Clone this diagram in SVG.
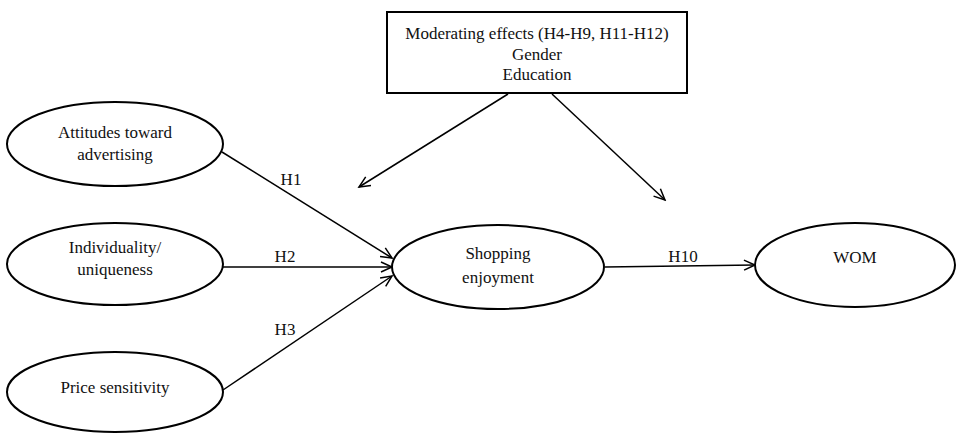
<svg xmlns="http://www.w3.org/2000/svg" width="965" height="433" viewBox="0 0 965 433">
<style>
.n{fill:#fff;stroke:#000;stroke-width:2}
.t{font-family:"Liberation Serif","Times New Roman",serif;font-size:17px;fill:#111;text-anchor:middle}
.c{stroke:#000;stroke-width:1.5;fill:none;marker-end:url(#ah)}
</style>
<defs>
<marker id="ah" markerWidth="14" markerHeight="12" refX="12" refY="6" orient="auto" markerUnits="userSpaceOnUse">
<path d="M1,1 L12,6 L1,11" fill="none" stroke="#000" stroke-width="1.5"/>
</marker>
</defs>
<rect width="965" height="433" fill="#fff"/>
<g id="connectors">
<line class="c" x1="222" y1="152" x2="392" y2="258"/>
<line class="c" x1="223" y1="267" x2="392" y2="267"/>
<line class="c" x1="223" y1="390" x2="392" y2="276"/>
<line class="c" x1="605" y1="267" x2="755" y2="265"/>
<line class="c" x1="508" y1="94" x2="359" y2="187"/>
<line class="c" x1="552" y1="94" x2="665" y2="200"/>
<text class="t" x="291" y="185">H1</text>
<text class="t" x="285" y="262">H2</text>
<text class="t" x="285" y="335">H3</text>
<text class="t" x="683" y="262">H10</text>
</g>
<g id="moderating">
<rect class="n" x="387" y="12" width="300" height="81"/>
<text class="t" x="537" y="39">Moderating effects (H4-H9, H11-H12)</text>
<text class="t" x="537" y="60">Gender</text>
<text class="t" x="537" y="80">Education</text>
</g>
<g id="attitudes">
<ellipse class="n" cx="115" cy="144" rx="108" ry="42"/>
<text class="t" x="115" y="138">Attitudes toward</text>
<text class="t" x="115" y="160">advertising</text>
</g>
<g id="individuality">
<ellipse class="n" cx="115" cy="264" rx="108" ry="41"/>
<text class="t" x="115" y="253">Individuality/</text>
<text class="t" x="115" y="275">uniqueness</text>
</g>
<g id="price">
<ellipse class="n" cx="115" cy="392" rx="108" ry="40"/>
<text class="t" x="115" y="393">Price sensitivity</text>
</g>
<g id="shopping">
<ellipse class="n" cx="498" cy="267" rx="106" ry="42"/>
<text class="t" x="498" y="259">Shopping</text>
<text class="t" x="498" y="283">enjoyment</text>
</g>
<g id="wom">
<ellipse class="n" cx="855" cy="265" rx="100" ry="42"/>
<text class="t" x="855" y="263">WOM</text>
</g>
</svg>
